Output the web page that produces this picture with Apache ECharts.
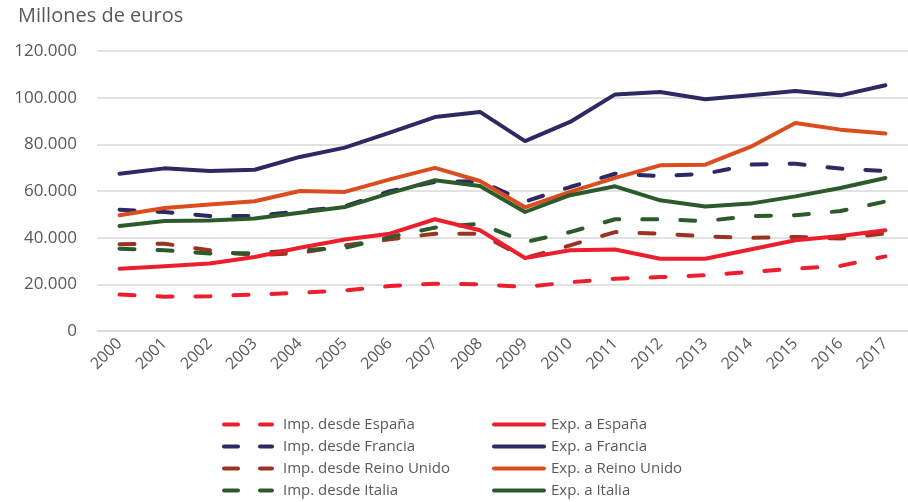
<!DOCTYPE html>
<html>
<head>
<meta charset="utf-8">
<script src="https://cdn.jsdelivr.net/npm/echarts@6/dist/echarts.min.js"></script>
<style>
html,body{margin:0;padding:0;background:#fff;}
#chart{width:908px;height:502px;}
</style>
</head>
<body>
<div id="chart"></div>
<script>
var years = ['2000','2001','2002','2003','2004','2005','2006','2007','2008','2009','2010','2011','2012','2013','2014','2015','2016','2017'];
var yTicks = [0, 20000, 40000, 60000, 80000, 100000, 120000];

var impEspana = [15600,14700,14900,15600,16400,17400,19300,20300,20000,18900,20900,22400,23100,23900,25300,26700,27900,32000];
var impFrancia = [52000,51000,49300,49300,51300,53400,59900,63900,64300,55500,61700,67400,66400,67400,71300,71700,69600,68600];
var impReinoUnido = [37200,37400,34600,32400,33400,36700,39300,41700,41700,31300,36700,42400,41700,40600,39900,40300,39600,41800];
var impItalia = [35300,34600,33200,33400,34600,35600,40300,44300,46000,38100,42400,47900,47900,47100,49300,49600,51400,55500];

var expEspana = [26700,27700,28900,31700,35700,39200,41700,47900,43200,31300,34600,34900,31000,31000,34900,38900,40700,43200];
var expFrancia = [67400,69700,68600,69100,74600,78600,85000,91700,93900,81400,89600,101400,102400,99300,101000,102900,101000,105300];
var expReinoUnido = [49600,52700,54200,55600,60000,59600,65000,69900,64300,53000,59600,65600,71000,71300,78900,89100,86300,84600];
var expItalia = [45000,47100,47400,48200,50700,53100,59100,64600,62100,51000,58200,62000,56000,53400,54600,57700,61300,65600];

var names = {
  impE:'Imp. desde España', impF:'Imp. desde Francia', impR:'Imp. desde Reino Unido', impI:'Imp. desde Italia',
  expE:'Exp. a España', expF:'Exp. a Francia', expR:'Exp. a Reino Unido', expI:'Exp. a Italia'
};
var RED='#EC1F2E', NAVY='#2C2963', BROWN='#993421', ORANGE='#DB4D1E', GREEN='#2C5A2B';

var DASH_ICON = 'path://M2,0h14a2,2 0 0 1 0,4h-14a2,2 0 0 1 0,-4z M38,0h12a2,2 0 0 1 0,4h-12a2,2 0 0 1 0,-4z';
var SOLID_ICON = 'path://M2,0h50a2,2 0 0 1 0,4h-50a2,2 0 0 1 0,-4z';

function mk(name, data, color, dashed, z){
  return {
    name:name, type:'line', data:data, symbol:'none', showSymbol:false, z:z,
    lineStyle:{color:color, width:4, type: dashed ? [15,23] : 'solid', cap:'round', join:'round'},
    itemStyle:{color:color},
    emphasis:{disabled:true}
  };
}

var chart = echarts.init(document.getElementById('chart'), null, {renderer:'canvas'});
var font = '"Open Sans", "Noto Sans", sans-serif';
chart.setOption({
  animation:false,
  textStyle:{fontFamily:font},
  title:{text:'Millones de euros', left:13, top:1, textStyle:{fontSize:20, fontWeight:'normal', color:'#595959', fontFamily:font}},
  grid:{left:97, top:51, width:813, height:280, containLabel:false},
  xAxis:{
    type:'category', data:years, boundaryGap:true,
    axisLine:{show:true, lineStyle:{color:'#d9d9d9', width:1.5}},
    axisTick:{show:false},
    axisLabel:{rotate:45, fontSize:16, color:'#595959', margin:10, interval:0, fontFamily:font}
  },
  yAxis:{
    type:'value', min:0, max:120000, interval:20000,
    axisLine:{show:false}, axisTick:{show:false},
    splitLine:{lineStyle:{color:'#d9d9d9', width:1.5}},
    axisLabel:{fontSize:17, color:'#595959', margin:20, fontFamily:font,
      formatter:function(v){ return v===0 ? '0' : (v/1000).toFixed(0)+'.000'; }}
  },
  legend:[
    {orient:'vertical', left:222, top:417, itemWidth:52, itemHeight:4, itemGap:7, padding:0,
     textStyle:{fontSize:15, color:'#595959', fontFamily:font, padding:[0,0,0,4]},
     data:[names.impE, names.impF, names.impR, names.impI].map(function(n){return {name:n, icon:DASH_ICON};})},
    {orient:'vertical', left:492, top:417, itemWidth:54, itemHeight:4, itemGap:7, padding:0,
     textStyle:{fontSize:15, color:'#595959', fontFamily:font},
     data:[names.expE, names.expF, names.expR, names.expI].map(function(n){return {name:n, icon:SOLID_ICON};})}
  ],
  series:[
    mk(names.impE, impEspana, RED, true, 2),
    mk(names.impF, impFrancia, NAVY, true, 2),
    mk(names.impR, impReinoUnido, BROWN, true, 2),
    mk(names.impI, impItalia, GREEN, true, 2),
    mk(names.expE, expEspana, RED, false, 3),
    mk(names.expF, expFrancia, NAVY, false, 3),
    mk(names.expR, expReinoUnido, ORANGE, false, 3),
    mk(names.expI, expItalia, GREEN, false, 3)
  ]
});
</script>
</body>
</html>
